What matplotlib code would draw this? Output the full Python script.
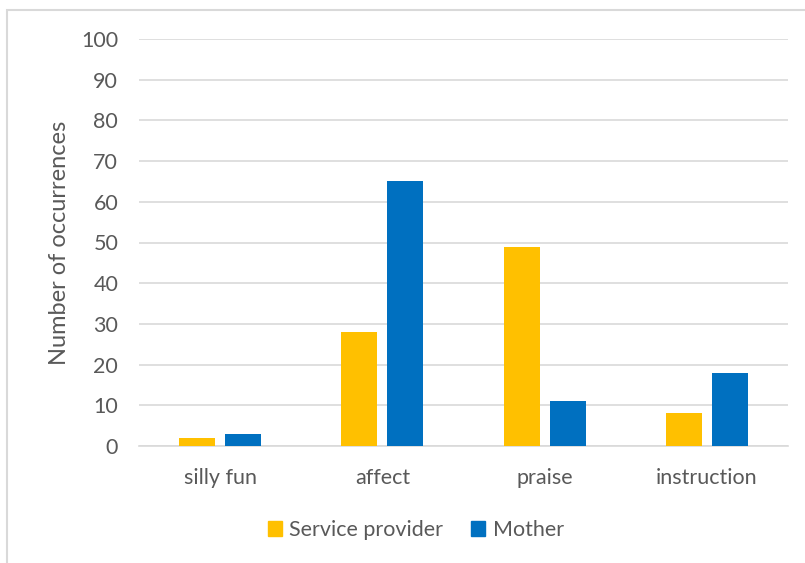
import matplotlib
matplotlib.use("Agg")
import matplotlib.pyplot as plt
from matplotlib.patches import Rectangle, Patch
import numpy as np

categories = ["silly fun", "affect", "praise", "instruction"]
service_provider = [2, 28, 49, 8]
mother = [3, 65, 11, 18]
series_names = ["Service provider", "Mother"]
y_ticks = list(range(0, 101, 10))

plt.rcParams["font.family"] = ["Lato", "DejaVu Sans"]
text_color = "#595959"
grid_color = "#D9D9D9"
yellow = "#FFC000"
blue = "#0070C0"

fig = plt.figure(figsize=(8.05, 5.63), dpi=100)
ax = fig.add_axes([139 / 805, 1 - 446 / 563, (788 - 139) / 805, (446 - 39) / 563])

x = np.arange(len(categories))
width = 0.222
offset = 0.142
ax.bar(x - offset, service_provider, width, color=yellow, zorder=3)
ax.bar(x + offset, mother, width, color=blue, zorder=3)

ax.set_xlim(-0.5, len(categories) - 0.5)
ax.set_ylim(0, 100)
ax.set_yticks(y_ticks)
ax.set_xticks(x)
ax.set_xticklabels(categories)
ax.yaxis.grid(True, color=grid_color, linewidth=1.2, zorder=0)
ax.set_axisbelow(True)
for side in ["top", "right", "left"]:
    ax.spines[side].set_visible(False)
ax.spines["bottom"].set_color(grid_color)
ax.spines["bottom"].set_linewidth(1.2)
ax.tick_params(axis="both", length=0, labelsize=15.5, labelcolor=text_color)
ax.tick_params(axis="x", pad=16)
ax.tick_params(axis="y", pad=15)
ax.set_ylabel("Number of occurrences", fontsize=17, color=text_color, labelpad=8)

handles = [Patch(color=yellow), Patch(color=blue)]
fig.legend(handles, series_names, loc="center", bbox_to_anchor=(416 / 805, 1 - 530 / 563),
           ncol=2, frameon=False, fontsize=15.5, labelcolor=text_color,
           handlelength=0.65, handleheight=0.65, handletextpad=0.35, columnspacing=1.3)

fig.patches.append(Rectangle((7 / 805, -0.2), 1.2, 1.2 - 10 / 563, transform=fig.transFigure,
                             fill=False, edgecolor=grid_color, linewidth=1.5))

fig.savefig("out.png", dpi=100)
